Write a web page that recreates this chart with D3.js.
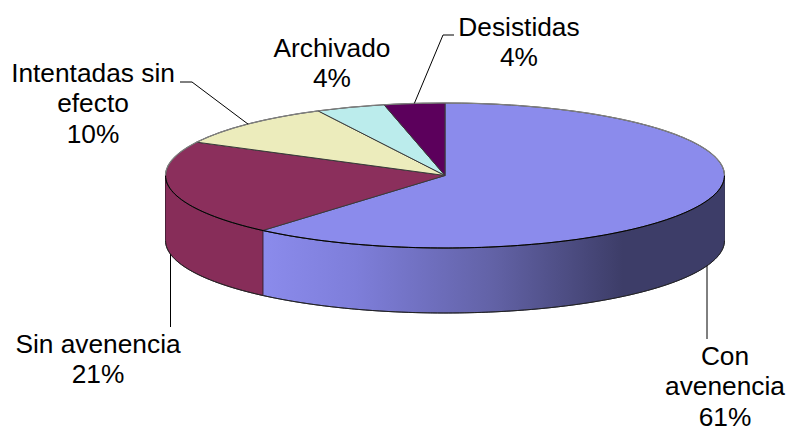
<!DOCTYPE html>
<html><head><meta charset="utf-8">
<script src="https://cdn.jsdelivr.net/npm/d3@7/dist/d3.min.js"></script>
<style>html,body{margin:0;padding:0;background:#fff}svg{display:block}text{font-family:"Liberation Sans",Arial,sans-serif;font-size:26.3px;fill:#000}</style>
</head><body><div id="c"></div>
<script>
const categories = ["Con avenencia","Sin avenencia","Intentadas sin efecto","Archivado","Desistidas"];
const values = [61.3,21.3,9.9,4.0,3.5];
const percentLabels = ["61%","21%","10%","4%","4%"];
const colors = ["#8B8BEC","#8B2F5C","#ECECBC","#BBECEC","#5C005C"];
const labelLines = [["Con","avenencia"],["Sin avenencia"],["Intentadas sin","efecto"],["Archivado"],["Desistidas"]];
const labelX = [725,98,93,332,519];
const labelY = [365,353,82,57,36];
const elbows = [[[707,339]],[[170.5,327]],[[192,82],[180,82]],[],[[443,35],[454,35]]];

const W=790,H=428,cx=445,cy=175.5,rx=279.5,ry=72.5,depth=65,LH=30.3;
const svg=d3.select("#c").append("svg").attr("width",W).attr("height",H);
const defs=svg.append("defs");
const grad=defs.append("linearGradient").attr("id","wall").attr("gradientUnits","userSpaceOnUse")
  .attr("x1",263).attr("x2",724).attr("y1",0).attr("y2",0);
[[0,"#8B8BEC"],[0.2,"#7E7EDA"],[0.5,"#6262A6"],[0.78,"#3D3D68"],[1,"#3D3D68"]]
  .forEach(([o,c])=>grad.append("stop").attr("offset",o).attr("stop-color",c));

const arcs=d3.pie().sort(null).value(d=>d).startAngle(0).endAngle(2*Math.PI)(values);
const pt=(a,dy=0)=>[cx+rx*Math.sin(a),cy-ry*Math.cos(a)+dy];
const sample=(a0,a1,dy=0)=>d3.range(0,121).map(i=>pt(a0+(a1-a0)*i/120,dy));
const line=d3.line();
const F=Math.PI/2,B=3*Math.PI/2;

// front walls
const gWall=svg.append("g");
arcs.forEach((d,i)=>{
  const a0=Math.max(d.startAngle,F),a1=Math.min(d.endAngle,B);
  if(a1<=a0) return;
  const top=sample(a0,a1),bot=sample(a1,a0,depth);
  gWall.append("path").attr("d",line(top.concat(bot))+"Z")
    .attr("fill",i===0?"url(#wall)":"#872D59")
    .attr("stroke",i===0?"#3a3a5a":"#4a2038").attr("stroke-width",1).attr("stroke-linejoin","round");
});
// bottom rim darker
gWall.append("path").attr("d",line(sample(F,B,depth))).attr("fill","none").attr("stroke","#222").attr("stroke-width",1);

// top slices
const arcGen=d3.arc().innerRadius(0).outerRadius(rx);
const gTop=svg.append("g").attr("transform",`translate(${cx},${cy}) scale(1,${ry/rx})`);
gTop.selectAll("path").data(arcs).join("path")
  .attr("d",arcGen).attr("fill",(d,i)=>colors[i])
  .attr("stroke","#3a3a3a").attr("stroke-width",1).attr("stroke-linejoin","round")
  .attr("vector-effect","non-scaling-stroke");
// front edge of the top face
svg.append("path").attr("d",line(sample(F,B))).attr("fill","none").attr("stroke","#000").attr("stroke-width",1);
// back edge highlight
svg.append("path").attr("d",line(sample(B,2*Math.PI+F))).attr("fill","none").attr("stroke","#808080").attr("stroke-width",1.2);

// leaders
const leaderIdx=[0,1,2,4];
leaderIdx.forEach(i=>{
  const mid=(arcs[i].startAngle+arcs[i].endAngle)/2;
  const front=mid>F&&mid<B;
  const p=pt(mid,front?depth:0);
  const pts=[p].concat(elbows[i]);
  if(i===0) pts[0]=[elbows[i][0][0],p[1]];
  if(i===1) pts[0]=[elbows[i][0][0],p[1]];
  svg.append("path").attr("d",line(pts)).attr("fill","none").attr("stroke","#000").attr("stroke-width",1);
});

// labels
categories.forEach((c,i)=>{
  const lines=labelLines[i].concat(percentLabels[i]);
  const t=svg.append("text").attr("text-anchor","middle");
  lines.forEach((l,k)=>t.append("tspan").attr("x",labelX[i]).attr("y",labelY[i]+k*LH).text(l));
});
</script></body></html>
